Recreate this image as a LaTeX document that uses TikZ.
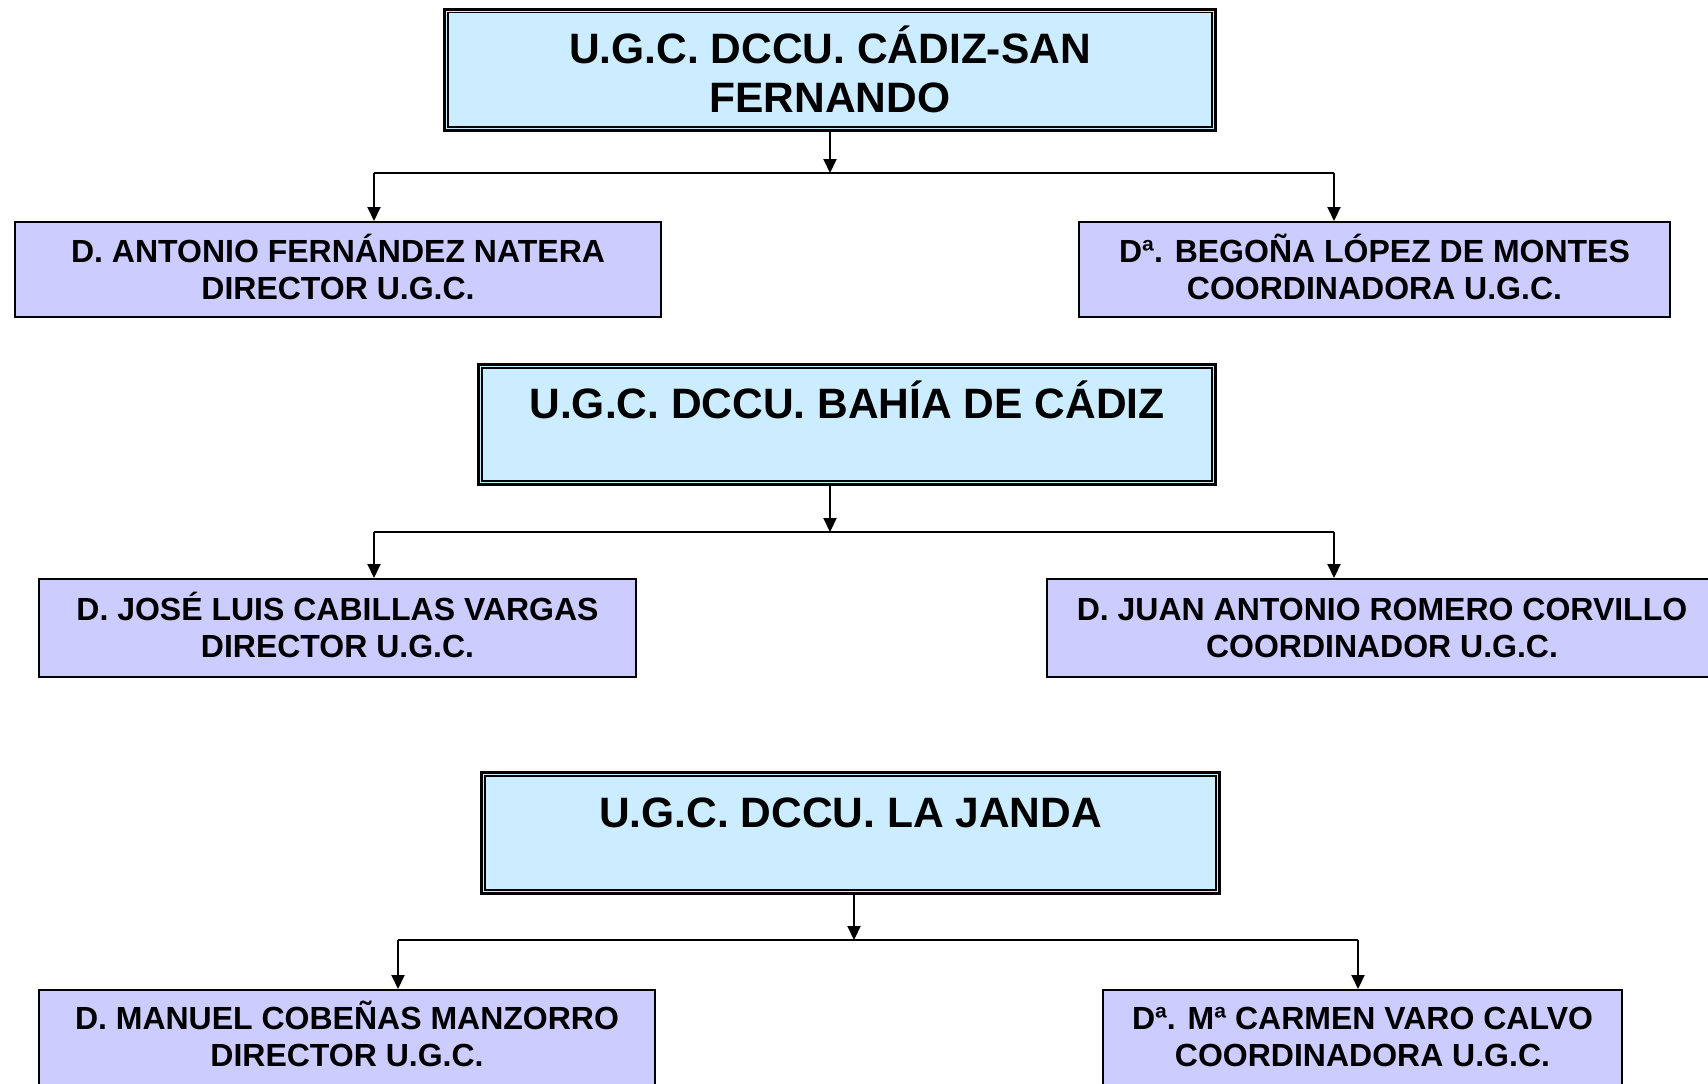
\documentclass[tikz,border=0pt]{standalone}
\usepackage{fontspec}
\setmainfont{Liberation Sans}
\usetikzlibrary{arrows.meta}
\definecolor{titlefill}{HTML}{CCECFF}
\definecolor{personfill}{HTML}{CCCCFF}
\newcommand{\lowstrut}[1]{\rule[-#1]{0pt}{#1}}
\begin{document}
\begin{tikzpicture}[x=0.5pt,y=-0.5pt,
  titlebox/.style={draw=black,line width=1.5pt,fill=titlefill,inner sep=0pt,align=center,
    font=\fontsize{21.25pt}{24.5pt}\selectfont\bfseries},
  personbox/.style={draw=black,line width=1pt,fill=personfill,inner sep=0pt,align=center,
    font=\fontsize{16pt}{18.6pt}\selectfont\bfseries},
  conn/.style={line width=1pt},
  arr/.style={line width=1pt,-{Triangle[length=7pt,width=6.5pt]}},
  innerline/.style={line width=0.75pt}]
\useasboundingbox (0,0) rectangle (1708,1083);

% ---------- Group 1 ----------
\node[titlebox,minimum width=385.5pt,minimum height=60.75pt] (t1) at (830,69.75)
  {U.G.C. DCCU. CÁDIZ-SAN\\FERNANDO};
\draw[innerline] ([shift={(5,5)}]t1.north west) rectangle ([shift={(-5,-5)}]t1.south east);
\node[personbox,minimum width=323pt,minimum height=47.5pt] (p1l) at (338,269.5)
  {D. ANTONIO FERNÁNDEZ NATERA\\DIRECTOR U.G.C.\lowstrut{3pt}};
\node[personbox,minimum width=295.5pt,minimum height=47.5pt] (p1r) at (1374.5,269.5)
  {Dª. BEGOÑA LÓPEZ DE MONTES\\COORDINADORA U.G.C.\lowstrut{3pt}};
\coordinate (j1) at (830,173);
\coordinate (l1) at (374,173);
\coordinate (r1) at (1334,173);
\draw[arr] (t1.south -| j1) -- (j1);
\draw[conn] (l1) -- (r1);
\draw[arr] (l1) -- (l1 |- p1l.north);
\draw[arr] (r1) -- (r1 |- p1r.north);

% ---------- Group 2 ----------
\node[titlebox,minimum width=368.5pt,minimum height=60pt] (t2) at (847,424.5)
  {U.G.C. DCCU. BAHÍA DE CÁDIZ\\\mbox{}};
\draw[innerline] ([shift={(5,5)}]t2.north west) rectangle ([shift={(-5,-5)}]t2.south east);
\node[personbox,minimum width=298.5pt,minimum height=49pt] (p2l) at (337.5,628)
  {D. JOSÉ LUIS CABILLAS VARGAS\\DIRECTOR U.G.C.\lowstrut{3pt}};
\node[personbox,minimum width=335pt,minimum height=49pt] (p2r) at (1382,628)
  {D. JUAN ANTONIO ROMERO CORVILLO\\COORDINADOR U.G.C.\lowstrut{0.5pt}};
\coordinate (j2) at (830,532);
\coordinate (l2) at (374,532);
\coordinate (r2) at (1334,532);
\draw[arr] (t2.south -| j2) -- (j2);
\draw[conn] (l2) -- (r2);
\draw[arr] (l2) -- (l2 |- p2l.north);
\draw[arr] (r2) -- (r2 |- p2r.north);

% ---------- Group 3 ----------
\node[titlebox,minimum width=369pt,minimum height=60.5pt] (t3) at (850.5,833)
  {U.G.C. DCCU. LA JANDA\\[-4.4pt]\mbox{}};
\draw[innerline] ([shift={(5,5)}]t3.north west) rectangle ([shift={(-5,-5)}]t3.south east);
\node[personbox,minimum width=308pt,minimum height=49pt] (p3l) at (347,1039)
  {D. MANUEL COBEÑAS MANZORRO\\DIRECTOR U.G.C.\lowstrut{5pt}};
\node[personbox,minimum width=259.5pt,minimum height=49pt] (p3r) at (1362.5,1039)
  {Dª. Mª CARMEN VARO CALVO\\COORDINADORA U.G.C.\lowstrut{2.5pt}};
\coordinate (j3) at (854,940);
\coordinate (l3) at (398,940);
\coordinate (r3) at (1358,940);
\draw[arr] (t3.south -| j3) -- (j3);
\draw[conn] (l3) -- (r3);
\draw[arr] (l3) -- (l3 |- p3l.north);
\draw[arr] (r3) -- (r3 |- p3r.north);
\end{tikzpicture}
\end{document}
